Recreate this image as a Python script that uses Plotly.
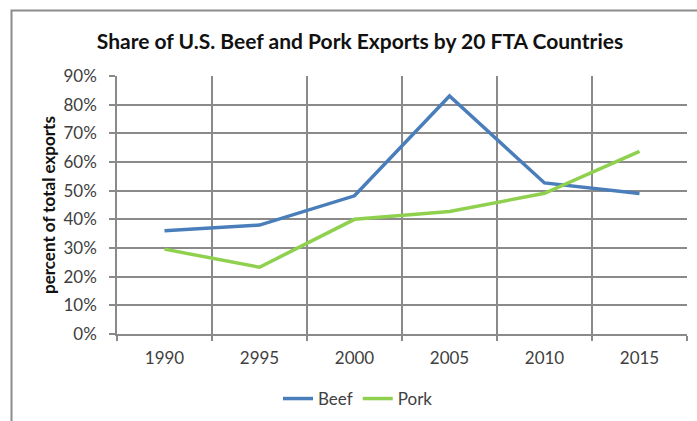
import plotly.graph_objects as go

# Export share data (fraction of total exports)
years = ["1990", "2995", "2000", "2005", "2010", "2015"]
beef = [0.36, 0.38, 0.482, 0.83, 0.527, 0.49]
pork = [0.296, 0.233, 0.40, 0.427, 0.491, 0.637]

y_ticks = [0, 0.1, 0.2, 0.3, 0.4, 0.5, 0.6, 0.7, 0.8, 0.9]

BEEF_COLOR = "#4a7ebb"
PORK_COLOR = "#8fd14f"
GRID = "#8a8a8a"
TEXT = "#404040"
FONT = "Lato"

W, H = 697, 421
ML, MR, MT, MB = 117, 10, 76, 87
pw, ph = W - ML - MR, H - MT - MB

def px_x(x):
    return (x - ML) / pw

def px_y(y):
    return (H - MB - y) / ph

fig = go.Figure()
fig.add_trace(go.Scatter(x=years, y=beef, name="Beef", mode="lines",
                         line=dict(color=BEEF_COLOR, width=3.5)))
fig.add_trace(go.Scatter(x=years, y=pork, name="Pork", mode="lines",
                         line=dict(color=PORK_COLOR, width=3.5)))

# outer chart frame
fig.add_shape(type="rect", xref="paper", yref="paper",
              x0=px_x(11.5), x1=px_x(705), y0=px_y(430), y1=px_y(10.5),
              line=dict(color="#8c8c8c", width=2), fillcolor="rgba(0,0,0,0)",
              layer="below")

# rotated y-axis title
fig.add_annotation(text="<b>percent of total exports</b>", xref="paper", yref="paper",
                   x=px_x(48), y=px_y(205), xanchor="center", yanchor="middle",
                   textangle=-90, showarrow=False,
                   font=dict(family=FONT, size=17, color="#111111"))

fig.update_layout(
    width=W, height=H,
    margin=dict(l=ML, r=MR, t=MT, b=MB, autoexpand=False),
    paper_bgcolor="white", plot_bgcolor="white",
    font=dict(family=FONT, color=TEXT, size=17),
    title=dict(text="<b>Share of U.S. Beef and Pork Exports by 20 FTA Countries</b>",
               x=(360 / W), xanchor="center", y=1 - 42 / H, yanchor="middle",
               font=dict(family=FONT, size=21, color="#111111")),
    showlegend=True,
    legend=dict(orientation="h", x=px_x(358), xanchor="center",
                y=px_y(399), yanchor="middle",
                font=dict(family=FONT, size=17, color=TEXT),
                itemwidth=30, tracegroupgap=0, bgcolor="rgba(0,0,0,0)"),
    xaxis=dict(type="category", categoryorder="array", categoryarray=years,
               range=[-0.5, 5.5], tickson="boundaries", automargin=False,
               showgrid=True, gridcolor=GRID, gridwidth=1.5,
               showline=True, linecolor=GRID, linewidth=1.5, mirror=False,
               ticks="outside", ticklen=5, tickcolor=GRID, tickwidth=1.5,
               ticklabelstandoff=8,
               tickfont=dict(family=FONT, size=17, color=TEXT),
               zeroline=False, fixedrange=True),
    yaxis=dict(range=[0, 0.9], tickvals=y_ticks, tickformat=".0%",
               automargin=False,
               showgrid=True, gridcolor=GRID, gridwidth=1.5,
               showline=True, linecolor=GRID, linewidth=1.5,
               ticks="outside", ticklen=6, tickcolor=GRID, tickwidth=1.5,
               ticklabelstandoff=9,
               tickfont=dict(family=FONT, size=17, color=TEXT),
               zeroline=False, fixedrange=True),
)

fig.write_html("out.html")
